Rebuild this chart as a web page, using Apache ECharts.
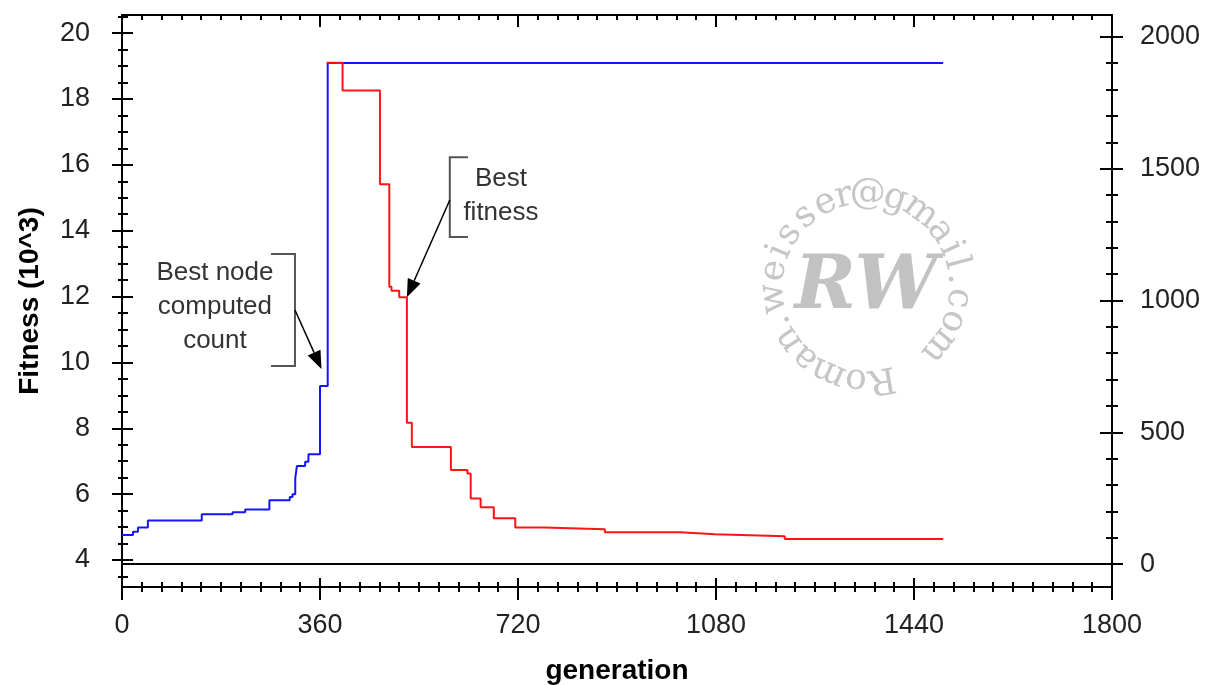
<!DOCTYPE html>
<html>
<head>
<meta charset="utf-8">
<script src="https://cdn.jsdelivr.net/npm/echarts@6/dist/echarts.min.js"></script>
<style>
html, body { margin: 0; padding: 0; background: #fff; }
#main { width: 1211px; height: 685px; }
</style>
</head>
<body>
<div id="main"></div>
<script>
// best node computed count (right axis), step starts [generation, count]
var countGen = [0, 20, 29, 47, 145, 201, 224, 268, 305, 310, 315, 318, 333, 339, 360, 374, 1493];
var countVal = [110, 123, 139, 165, 189, 197, 207, 242, 254, 265, 326, 372, 388, 417, 676, 1901, 1901];

// best fitness (10^3, left axis)
var fitGen = [372, 401, 469, 486, 490, 504, 518, 527, 598, 628, 634, 652, 676, 715, 767, 878, 1015, 1078, 1205, 1493];
var fitVal = [19.1, 18.26, 15.41, 12.3, 12.18, 11.98, 8.17, 7.43, 6.73, 6.63, 5.87, 5.6, 5.27, 4.99, 4.93, 4.84, 4.78, 4.72, 4.64, 4.64];

var genTicks = [0, 360, 720, 1080, 1440, 1800];
var fitTicks = [4, 6, 8, 10, 12, 14, 16, 18, 20];
var countTicks = [0, 500, 1000, 1500, 2000];

var FONT = 'Liberation Sans, Arial, sans-serif';
var FMIN = 3.18, FMAX = 20.55, CMIN = -87, CMAX = 2083;

function pairs(xs, ys) {
  var out = [];
  for (var i = 0; i < xs.length; i++) out.push([xs[i], ys[i]]);
  return out;
}
function steps(a, b, s) {
  var out = [];
  for (var v = a; v <= b + 1e-9; v += s) out.push(Math.round(v * 100) / 100);
  return out;
}
function plain(v) { return String(v); }

var labelStyle = { fontFamily: FONT, fontSize: 27, color: '#222', formatter: plain };
var noLine = { show: false, onZero: false };

// tick-only axes so ticks can straddle the axis line
function xTickAxis(pos, offset, interval, len, inside) {
  return {
    type: 'value', position: pos, offset: offset, min: 0, max: 1800, interval: interval,
    axisLine: noLine, axisLabel: { show: false }, splitLine: { show: false },
    axisTick: { show: true, inside: !!inside, length: len, lineStyle: { color: '#000', width: 2 } }
  };
}
function yTickAxis(pos, offset, min, max, vals, len) {
  return {
    type: 'value', position: pos, offset: offset, min: min, max: max,
    axisLine: noLine, axisLabel: { show: false }, splitLine: { show: false },
    axisTick: { show: true, length: len, customValues: vals, lineStyle: { color: '#000', width: 2 } }
  };
}

var myChart = echarts.init(document.getElementById('main'));

var option = {
  animation: false,
  backgroundColor: '#fff',
  grid: { left: 122, right: 99, top: 15, bottom: 98, outerBoundsMode: 'none', containLabel: false },
  xAxis: [
    {
      type: 'value', position: 'bottom', min: 0, max: 1800,
      axisLine: { show: true, onZero: false, lineStyle: { color: '#000', width: 2 } },
      axisTick: { show: false },
      axisLabel: Object.assign({ margin: 25, customValues: genTicks }, labelStyle),
      splitLine: { show: false },
      name: 'generation', nameLocation: 'middle', nameGap: 70,
      nameTextStyle: { fontFamily: FONT, fontSize: 28, fontWeight: 'bold', color: '#000' }
    },
    xTickAxis('bottom', -5, 36, 10),
    xTickAxis('bottom', -9, 360, 22),
    {
      type: 'value', position: 'top', min: 0, max: 1800, interval: 360,
      axisLine: { show: true, onZero: false, lineStyle: { color: '#000', width: 2 } },
      axisLabel: { show: false }, splitLine: { show: false },
      axisTick: { show: true, inside: true, length: 12, lineStyle: { color: '#000', width: 2 } },
      minorTick: { show: true, splitNumber: 10, length: 5, lineStyle: { color: '#000', width: 2 } }
    }
  ],
  yAxis: [
    {
      type: 'value', position: 'left', min: FMIN, max: FMAX,
      axisLine: { show: true, onZero: false, lineStyle: { color: '#000', width: 2 } },
      axisTick: { show: false },
      axisLabel: Object.assign({ margin: 32, customValues: fitTicks }, labelStyle),
      splitLine: { show: false },
      name: 'Fitness (10^3)', nameLocation: 'middle', nameGap: 78,
      nameTextStyle: { fontFamily: FONT, fontSize: 28, fontWeight: 'bold', color: '#000' }
    },
    yTickAxis('left', -11, FMIN, FMAX, fitTicks, 21),
    yTickAxis('left', -6, FMIN, FMAX, steps(3.5, 20.5, 0.5), 10),
    {
      type: 'value', position: 'right', min: CMIN, max: CMAX,
      axisLine: { show: true, onZero: false, lineStyle: { color: '#000', width: 2 } },
      axisTick: { show: false },
      axisLabel: Object.assign({ margin: 28, customValues: countTicks }, labelStyle),
      splitLine: { show: false }
    },
    yTickAxis('right', -12, CMIN, CMAX, countTicks, 23),
    yTickAxis('right', -6, CMIN, CMAX, steps(0, 2000, 100), 12)
  ],
  series: [
    {
      name: 'Best node computed count', type: 'line', step: 'end',
      xAxisIndex: 0, yAxisIndex: 3,
      data: pairs(countGen, countVal),
      showSymbol: false, lineStyle: { color: '#1414ff', width: 2 },
      markLine: {
        silent: true, symbol: ['none', 'none'], label: { show: false },
        lineStyle: { color: '#000', width: 2, type: 'solid' },
        data: [{ yAxis: 0 }]
      }
    },
    {
      name: 'Best fitness', type: 'line', step: 'end',
      xAxisIndex: 0, yAxisIndex: 0,
      data: pairs(fitGen, fitVal),
      showSymbol: false, lineStyle: { color: '#ff1414', width: 2 }
    }
  ]
};

myChart.setOption(option);

// annotations, placed in data coords (generation, fitness)
function px(g, f) {
  return myChart.convertToPixel({ xAxisIndex: 0, yAxisIndex: 0 }, [g, f]);
}
function arrow(from, to) {
  var dx = to[0] - from[0], dy = to[1] - from[1];
  var L = Math.sqrt(dx * dx + dy * dy), ux = dx / L, uy = dy / L;
  var hl = 18, hw = 7;
  var bx = to[0] - ux * hl, by = to[1] - uy * hl;
  return [
    { type: 'line', shape: { x1: from[0], y1: from[1], x2: bx, y2: by }, style: { stroke: '#000', lineWidth: 1.5 } },
    { type: 'polygon', shape: { points: [to, [bx - uy * hw, by + ux * hw], [bx + uy * hw, by - ux * hw]] }, style: { fill: '#000' } }
  ];
}
function bracket(x, xEnd, yTop, yBot) {
  var a = px(xEnd, yTop), b = px(x, yTop), c = px(x, yBot), d = px(xEnd, yBot);
  return { type: 'polyline', shape: { points: [a, b, c, d] }, style: { stroke: '#555', lineWidth: 2, fill: null } };
}
function note(g, f, txt) {
  var p = px(g, f);
  return {
    type: 'text', x: p[0], y: p[1],
    style: { text: txt, fill: '#333', font: '26px ' + FONT, align: 'center', verticalAlign: 'middle', lineHeight: 34 }
  };
}

var els = [];
els.push(note(169, 11.68, 'Best node\ncomputed\ncount'));
els.push(bracket(314.5, 271, 13.29, 9.89));
els = els.concat(arrow(px(314.5, 11.59), px(362.7, 9.8)));
els.push(note(689, 15.05, 'Best\nfitness'));
els.push(bracket(596, 629, 16.23, 13.81));
els = els.concat(arrow(px(596, 14.93), px(518, 11.98)));

// watermark
var wm = 'Roman.weisser@gmail.com';
var cx = 866, cy = 287, r = 93;
var wts = [];
for (var i = 0; i < wm.length; i++) {
  var ch = wm[i];
  wts.push('il.r'.indexOf(ch) >= 0 ? 0.65 : ('mw@'.indexOf(ch) >= 0 ? 1.35 : (ch === 'R' ? 1.2 : 1)));
}
var tot = 0;
for (var i = 0; i < wm.length - 1; i++) tot += (wts[i] + wts[i + 1]) / 2;
var k = 319 / tot, ang = 170;
for (var i = 0; i < wm.length; i++) {
  if (i > 0) ang += (wts[i - 1] + wts[i]) / 2 * k;
  var t = ang * Math.PI / 180;
  els.push({
    type: 'text', x: cx + r * Math.sin(t), y: cy - r * Math.cos(t), rotation: -t, z: -1,
    style: { text: wm[i], fill: '#c6c6c6', font: '36px DejaVu Serif', align: 'center', verticalAlign: 'middle' }
  });
}
els.push({
  type: 'text', x: cx, y: cy + 2, z: -1,
  style: { text: 'RW', fill: '#c2c2c2', font: 'bold italic 74px DejaVu Serif', align: 'center', verticalAlign: 'middle' }
});

myChart.setOption({ graphic: els });
</script>
</body>
</html>
